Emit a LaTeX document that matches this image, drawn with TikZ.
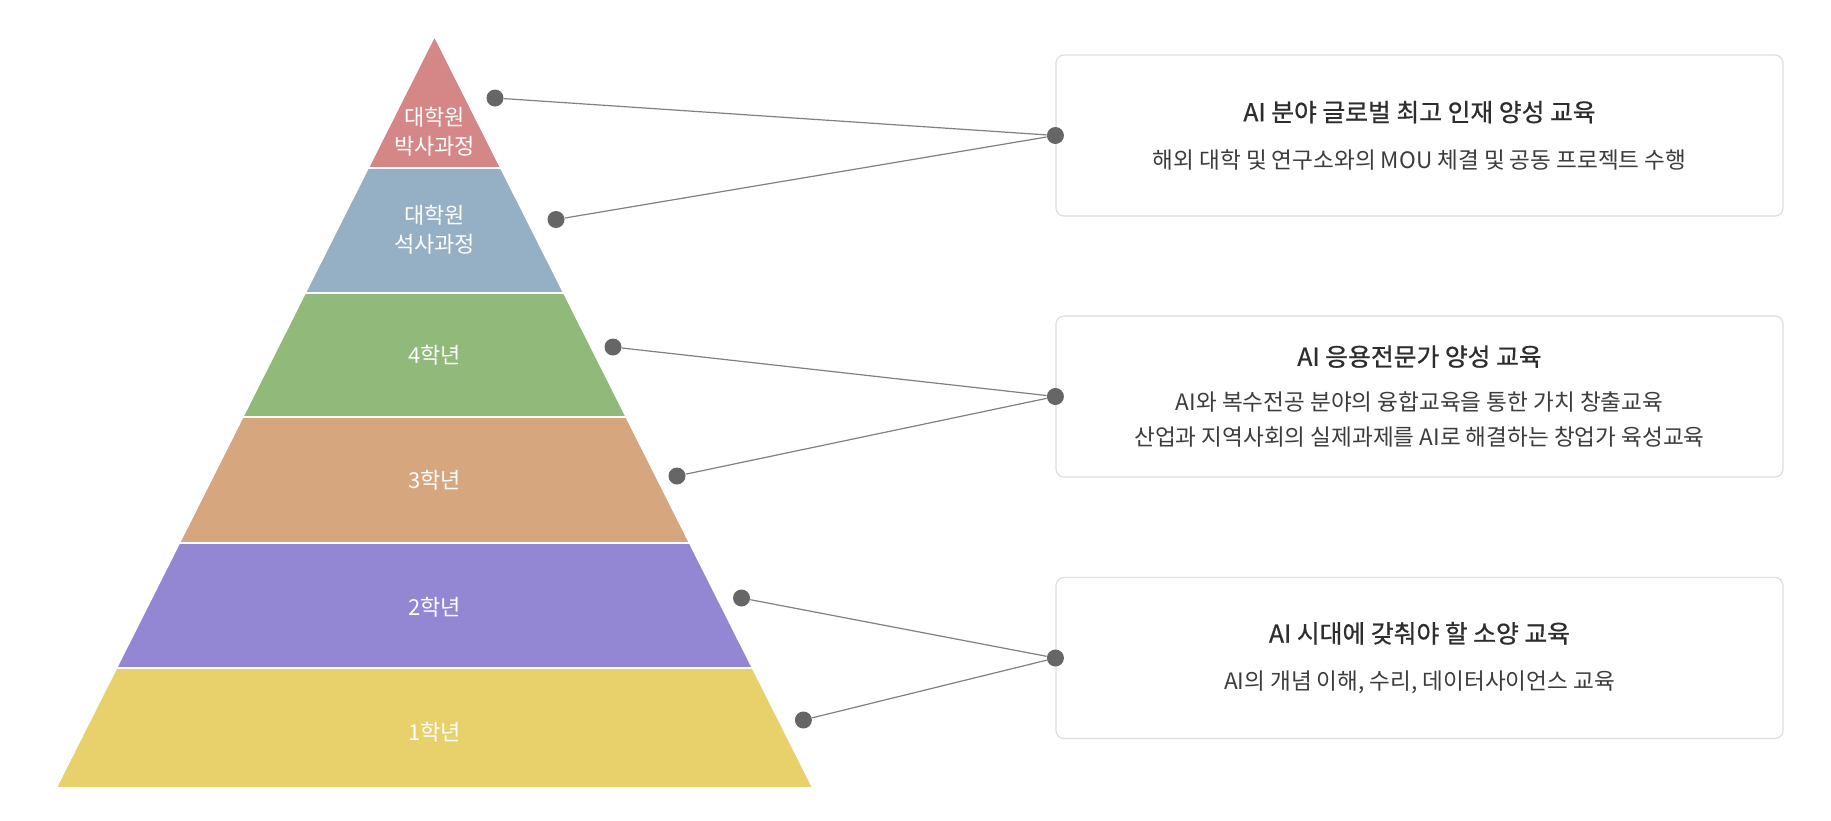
\documentclass[tikz,border=0pt]{standalone}
\usepackage{fontspec}
\setmainfont{Noto Sans CJK KR}
\newfontfamily\headfont[FakeBold=0.7]{Noto Sans CJK KR}
\usetikzlibrary{positioning}
\definecolor{tierred}{RGB}{213,135,135}
\definecolor{tierblue}{RGB}{149,176,197}
\definecolor{tiergreen}{RGB}{145,185,122}
\definecolor{tierorange}{RGB}{214,166,127}
\definecolor{tierpurple}{RGB}{147,135,212}
\definecolor{tieryellow}{RGB}{232,209,106}
\definecolor{jointgray}{RGB}{102,102,102}
\definecolor{linkgray}{RGB}{128,128,128}
\definecolor{boxgray}{RGB}{222,222,222}
\definecolor{titlegray}{RGB}{45,45,45}
\definecolor{subgray}{RGB}{60,60,60}
\newcommand{\boxhead}[1]{{\headfont\fontsize{12.4}{17.5}\selectfont\color{titlegray}#1}}
\tikzset{
  tier/.style={draw=white, line width=0.8pt, line join=round},
  tierlbl/.style={text=white, align=center, font=\fontsize{11}{14.5}\selectfont},
  joint/.style={circle, fill=jointgray, inner sep=0pt, minimum size=8.5pt},
  link/.style={draw=linkgray, line width=0.6pt},
  infobox/.style={draw=boxgray, rounded corners=4pt, fill=white, line width=0.6pt, minimum width=363.5pt, minimum height=80.5pt, align=center, text=subgray, font=\fontsize{11.3}{17.5}\selectfont}
}
\begin{document}
\begin{tikzpicture}[x=0.5pt, y=-0.5pt]
    \fill[white] (0,0) rectangle (1831,820);
    \useasboundingbox (0,0) rectangle (1831,820);
    % pyramid
    \filldraw[tier, fill=tierred] (434.5,36) -- (500.9,168) -- (368.1,168) -- cycle;
    \filldraw[tier, fill=tierblue] (368.1,168) -- (500.9,168) -- (563.9,293) -- (305.1,293) -- cycle;
    \filldraw[tier, fill=tiergreen] (305.1,293) -- (563.9,293) -- (626.3,417) -- (242.7,417) -- cycle;
    \filldraw[tier, fill=tierorange] (242.7,417) -- (626.3,417) -- (689.7,543) -- (179.3,543) -- cycle;
    \filldraw[tier, fill=tierpurple] (179.3,543) -- (689.7,543) -- (752.6,668) -- (116.4,668) -- cycle;
    \filldraw[tier, fill=tieryellow] (116.4,668) -- (752.6,668) -- (813,788) -- (56,788) -- cycle;
    \node[tierlbl] (phd) at (434.5,132) {대학원\\박사과정};
    \node[tierlbl] (ms) at (434.5,230) {대학원\\석사과정};
    \node[tierlbl] (y4) at (434.5,355) {4학년};
    \node[tierlbl] (y3) at (434.5,480) {3학년};
    \node[tierlbl] (y2) at (434.5,607) {2학년};
    \node[tierlbl] (y1) at (434.5,732) {1학년};
    % boxes
    \node[infobox] (top) at (1419.5,135.5) {\boxhead{AI 분야 글로벌 최고 인재 양성 교육}\\[6pt]해외 대학 및 연구소와의 MOU 체결 및 공동 프로젝트 수행};
    \node[infobox] (mid) at (1419.5,396.5) {\boxhead{AI 응용전문가 양성 교육}\\[5pt]AI와 복수전공 분야의 융합교육을 통한 가치 창출교육\\산업과 지역사회의 실제과제를 AI로 해결하는 창업가 육성교육};
    \node[infobox] (low) at (1419.5,658) {\boxhead{AI 시대에 갖춰야 할 소양 교육}\\[6pt]AI의 개념 이해, 수리, 데이터사이언스 교육};
    % joints
    \node[joint] (j1) at (495,98) {};
    \node[joint] (j2) at (556,219.5) {};
    \node[joint] (j3) at (613,347) {};
    \node[joint] (j4) at (677,476) {};
    \node[joint] (j5) at (741.5,598) {};
    \node[joint] (j6) at (803.4,720) {};
    \node[joint] (jtop) at (top.west) {};
    \node[joint] (jmid) at (mid.west) {};
    \node[joint] (jlow) at (low.west) {};
    \draw[link] (j1) -- (jtop);
    \draw[link] (j2) -- (jtop);
    \draw[link] (j3) -- (jmid);
    \draw[link] (j4) -- (jmid);
    \draw[link] (j5) -- (jlow);
    \draw[link] (j6) -- (jlow);
\end{tikzpicture}
\end{document}
